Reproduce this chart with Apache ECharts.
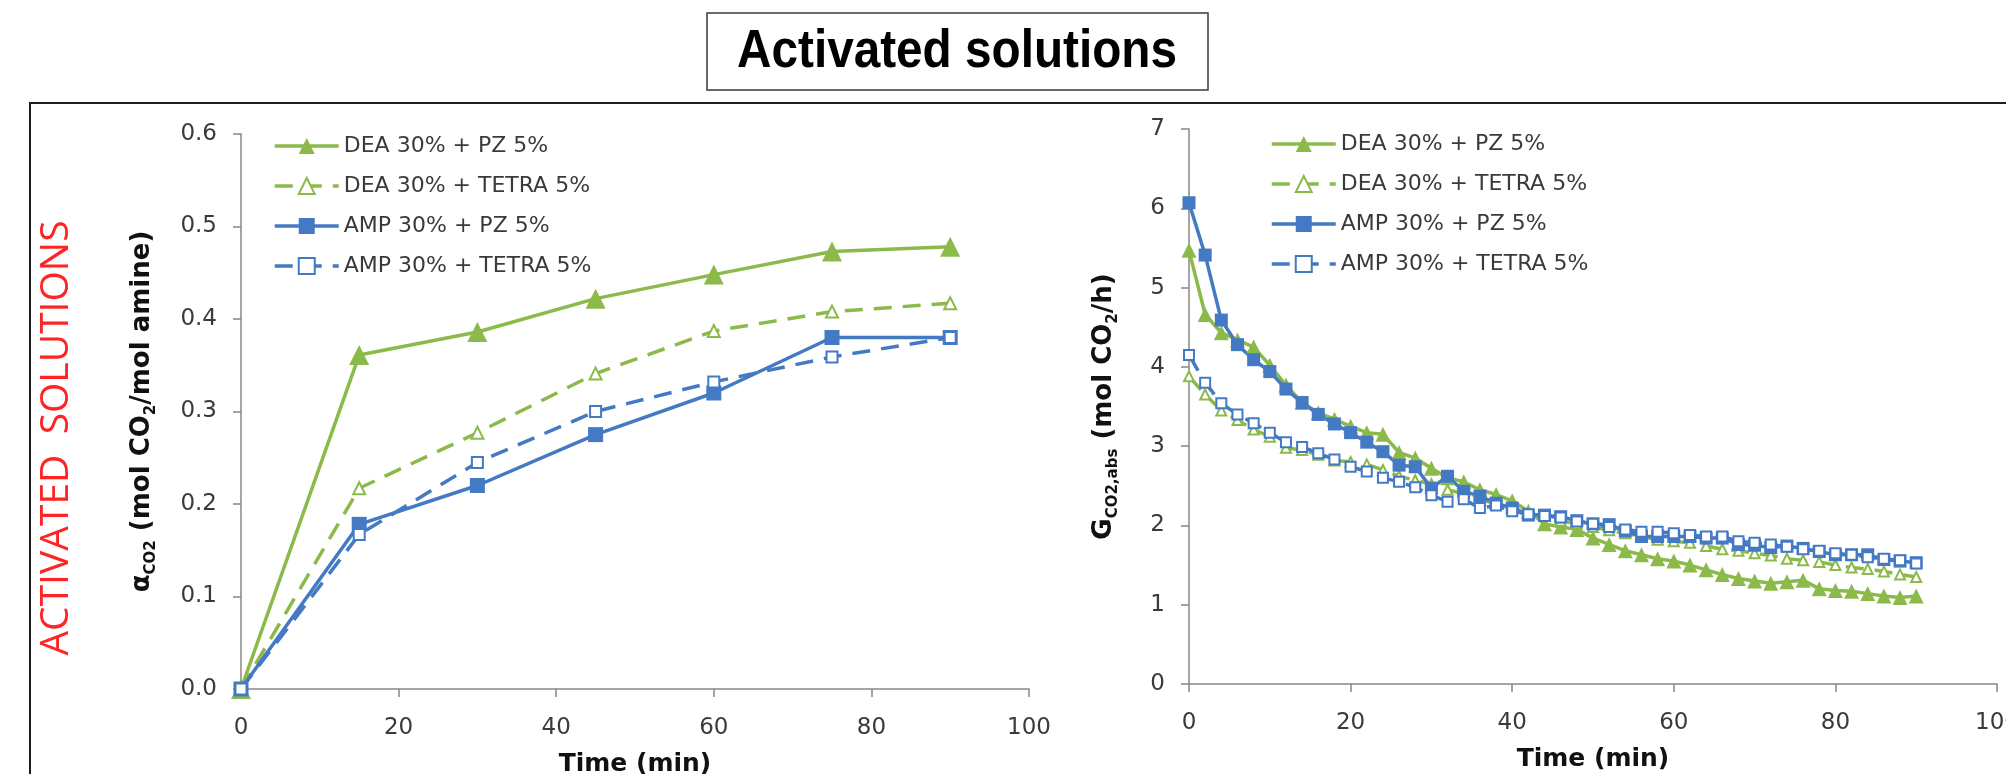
<!DOCTYPE html>
<html><head><meta charset="utf-8">
<script src="https://cdn.jsdelivr.net/npm/echarts@6/dist/echarts.min.js"></script>
<style>html,body{margin:0;padding:0;background:#fff}#c{width:2006px;height:774px}</style>
</head><body><div id="c"></div>
<script>
// ---- data ----
const seriesNames = ['DEA 30% + PZ 5%', 'DEA 30% + TETRA 5%', 'AMP 30% + PZ 5%', 'AMP 30% + TETRA 5%'];

// Left chart: CO2 loading vs time
const timeLeft = [0, 15, 30, 45, 60, 75, 90];
const loadDEA_PZ    = [0, 0.361, 0.386, 0.422, 0.448, 0.473, 0.478];
const loadDEA_TETRA = [0, 0.217, 0.277, 0.341, 0.387, 0.408, 0.417];
const loadAMP_PZ    = [0, 0.178, 0.220, 0.275, 0.320, 0.380, 0.380];
const loadAMP_TETRA = [0, 0.167, 0.245, 0.300, 0.332, 0.359, 0.380];

// Right chart: absorption rate vs time (every 2 min)
const timeRight = [0,2,4,6,8,10,12,14,16,18,20,22,24,26,28,30,32,34,36,38,40,42,44,46,48,50,52,54,56,58,60,62,64,66,68,70,72,74,76,78,80,82,84,86,88,90];
const rateDEA_PZ = [5.47,4.66,4.43,4.34,4.25,4.02,3.77,3.55,3.42,3.34,3.25,3.17,3.15,2.92,2.85,2.72,2.60,2.55,2.45,2.39,2.31,2.18,2.02,1.98,1.95,1.84,1.76,1.68,1.63,1.58,1.55,1.50,1.44,1.38,1.33,1.30,1.27,1.29,1.31,1.20,1.18,1.17,1.14,1.11,1.09,1.11];
const rateDEA_TETRA = [3.88,3.65,3.45,3.33,3.21,3.12,2.98,2.95,2.89,2.82,2.80,2.77,2.70,2.62,2.57,2.52,2.45,2.40,2.33,2.27,2.22,2.15,2.12,2.06,2.02,1.98,1.94,1.90,1.86,1.82,1.80,1.78,1.74,1.70,1.68,1.65,1.62,1.58,1.56,1.54,1.50,1.47,1.45,1.42,1.38,1.35];
const rateAMP_PZ = [6.07,5.41,4.59,4.28,4.09,3.94,3.72,3.55,3.40,3.28,3.17,3.05,2.93,2.76,2.74,2.47,2.62,2.43,2.37,2.28,2.22,2.13,2.13,2.11,2.06,2.02,2.01,1.93,1.86,1.86,1.86,1.86,1.84,1.84,1.76,1.75,1.72,1.74,1.71,1.67,1.63,1.63,1.63,1.57,1.55,1.53];
const rateAMP_TETRA = [4.15,3.80,3.54,3.40,3.29,3.17,3.05,2.99,2.91,2.83,2.74,2.68,2.60,2.55,2.48,2.38,2.30,2.33,2.22,2.25,2.18,2.14,2.12,2.10,2.05,2.02,1.98,1.95,1.92,1.92,1.90,1.88,1.86,1.86,1.80,1.78,1.76,1.73,1.70,1.68,1.65,1.63,1.60,1.58,1.56,1.52];

// ---- styles ----
const GREEN = '#8cba4a', BLUE = '#4479c4';
const AXIS_GRAY = '#878787', LABEL = '#3a3a3a';
const FONT = 'DejaVu Sans';
const pairs = (xs, ys) => xs.map((x, i) => [x, ys[i]]);

function xAxisCfg(gridIndex) {
  return {
    gridIndex, type: 'value', min: 0, max: 100, interval: 20,
    axisLine: { lineStyle: { color: AXIS_GRAY, width: 1.5 } },
    axisTick: { length: 8, lineStyle: { color: AXIS_GRAY, width: 1.5 } },
    axisLabel: { color: LABEL, fontSize: 23, fontFamily: FONT, margin: 28 },
    splitLine: { show: false },
    name: 'Time (min)', nameLocation: 'middle', nameGap: 63,
    nameTextStyle: { color: '#111', fontSize: 25, fontWeight: 'bold', fontFamily: FONT }
  };
}
const richName = {
  b: { fontSize: 26, fontWeight: 'bold', fontFamily: FONT, color: '#111', lineHeight: 34, verticalAlign: 'middle' },
  s: { fontSize: 15, fontWeight: 'bold', fontFamily: FONT, color: '#111', lineHeight: 16, verticalAlign: 'bottom' }
};
function yAxisCfg(gridIndex, max, interval, fmt, name, gap) {
  return {
    gridIndex, type: 'value', min: 0, max, interval,
    axisLine: { show: true, lineStyle: { color: AXIS_GRAY, width: 1.5 } },
    axisTick: { show: true, length: 8, lineStyle: { color: AXIS_GRAY, width: 1.5 } },
    axisLabel: { color: LABEL, fontSize: 23, fontFamily: FONT, margin: 24, formatter: fmt },
    splitLine: { show: false },
    name, nameLocation: 'middle', nameGap: gap,
    nameTextStyle: { rich: richName }
  };
}
function lineSeries(name, data, idx, color, symbol, size, dashed) {
  return {
    name, type: 'line', xAxisIndex: idx, yAxisIndex: idx, data,
    symbol, symbolSize: size, color,
    itemStyle: { color, borderColor: color, borderWidth: symbol.indexOf('empty') === 0 ? 1.6 : 0 },
    lineStyle: { color, width: 3.5, type: dashed ? [18, 11] : 'solid' },
    emphasis: { disabled: true }
  };
}
function legendCfg(left, top) {
  return {
    orient: 'vertical', left, top, padding: 0,
    itemWidth: 64, itemHeight: 20, itemGap: 18,
    data: seriesNames, selectedMode: false,
    lineStyle: { width: 3.5 },
    textStyle: { fontSize: 22, color: LABEL, fontFamily: FONT, lineHeight: 20 }
  };
}

const option = {
  animation: false,
  backgroundColor: '#fff',
  textStyle: { fontFamily: FONT },
  grid: [
    { left: 241, top: 134, width: 788, height: 555, containLabel: false, outerBoundsMode: 'none' },
    { left: 1189, top: 129, width: 808, height: 555, containLabel: false, outerBoundsMode: 'none' }
  ],
  xAxis: [xAxisCfg(0), xAxisCfg(1)],
  yAxis: [
    yAxisCfg(0, 0.6, 0.1, v => v.toFixed(1), '{b|α}{s|CO2}{b| (mol CO}{s|2}{b|/mol amine)}', 82),
    yAxisCfg(1, 7, 1, v => String(v), '{b|G}{s|CO2,abs}{b| (mol CO}{s|2}{b|/h)}', 68)
  ],
  legend: [legendCfg(273, 135), legendCfg(1270, 133)],
  series: [
    lineSeries(seriesNames[0], pairs(timeLeft, loadDEA_PZ), 0, GREEN, 'triangle', 20, false),
    lineSeries(seriesNames[1], pairs(timeLeft, loadDEA_TETRA), 0, GREEN, 'emptyTriangle', 12, true),
    lineSeries(seriesNames[2], pairs(timeLeft, loadAMP_PZ), 0, BLUE, 'rect', 15, false),
    lineSeries(seriesNames[3], pairs(timeLeft, loadAMP_TETRA), 0, BLUE, 'emptyRect', 11, true),
    lineSeries(seriesNames[0], pairs(timeRight, rateDEA_PZ), 1, GREEN, 'triangle', 15, false),
    lineSeries(seriesNames[1], pairs(timeRight, rateDEA_TETRA), 1, GREEN, 'emptyTriangle', 10, true),
    lineSeries(seriesNames[2], pairs(timeRight, rateAMP_PZ), 1, BLUE, 'rect', 13, false),
    lineSeries(seriesNames[3], pairs(timeRight, rateAMP_TETRA), 1, BLUE, 'emptyRect', 10, true)
  ],
  graphic: [
    { type: 'rect', shape: { x: 30, y: 103, width: 2100, height: 800 },
      style: { fill: 'none', stroke: '#1e1e1e', lineWidth: 2 }, silent: true },
    { type: 'rect', shape: { x: 707, y: 13, width: 501, height: 77 },
      style: { fill: '#fff', stroke: '#3a3a3a', lineWidth: 1.5 }, silent: true },
    { type: 'text', x: 957, y: 52, scaleX: 0.9, silent: true,
      style: { text: 'Activated solutions', font: 'bold 53px "Liberation Sans", Arial, sans-serif', fill: '#000',
               align: 'center', verticalAlign: 'middle', textAlign: 'center', textVerticalAlign: 'middle' } },
    { type: 'text', x: 57, y: 438, rotation: Math.PI / 2, silent: true,
      style: { text: 'ACTIVATED  SOLUTIONS', font: '39px "Open Sans", sans-serif', fill: '#ff2424',
               align: 'center', verticalAlign: 'middle', textAlign: 'center', textVerticalAlign: 'middle' } }
  ]
};
const chart = echarts.init(document.getElementById('c'), null, { renderer: 'canvas' });
chart.setOption(option);
</script>
</body></html>
